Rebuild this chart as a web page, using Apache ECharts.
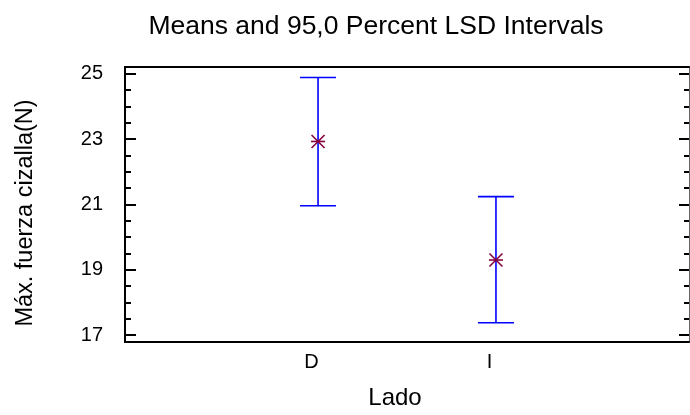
<!DOCTYPE html>
<html>
<head>
<meta charset="utf-8">
<script src="https://cdn.jsdelivr.net/npm/echarts@6/dist/echarts.min.js"></script>
<style>
  html, body { margin: 0; padding: 0; background: #fff; }
  #chart { width: 690px; height: 415px; }
</style>
</head>
<body>
<div id="chart"></div>
<script>
// Group labels and their positions on the x scale
const categories = ['D', 'I'];
const categoryPos = [1, 2];
// Group means with 95% LSD interval bounds
const means = [22.93, 19.30];
const lower = [20.96, 17.38];
const upper = [24.89, 21.24];
// Y axis labelled and minor tick values
const yMajorTicks = [17, 19, 21, 23, 25];
const yMinorTicks = [17.5, 18, 18.5, 19.5, 20, 20.5, 21.5, 22, 22.5, 23.5, 24, 24.5];

const FONT = 'Liberation Sans, Arial, sans-serif';
const Y_MIN = 16.79, Y_MAX = 25.21;

const chart = echarts.init(document.getElementById('chart'));

function yAxisDef(position, ticks, len, showLabel, lineColor, lineWidth) {
  return {
    type: 'value', position: position, min: Y_MIN, max: Y_MAX,
    splitLine: { show: false },
    axisLine: { show: true, onZero: false, lineStyle: { color: lineColor, width: lineWidth } },
    axisTick: { show: true, inside: true, length: len, customValues: ticks,
                lineStyle: { color: '#000', width: 2 } },
    axisLabel: { show: showLabel, customValues: ticks, color: '#000', fontFamily: FONT,
                 fontSize: 20, margin: 22, padding: [4, 0, 0, 0] },
    name: showLabel ? 'Máx. fuerza cizalla(N)' : '',
    nameLocation: 'middle', nameGap: 87, nameRotate: 90,
    nameTextStyle: { color: '#000', fontFamily: FONT, fontSize: 23.5, padding: [0, 17, 0, 0] }
  };
}

const errorData = categoryPos.map((x, i) => [x, lower[i], upper[i]]);
const meanData = categoryPos.map((x, i) => [x, means[i]]);

// error bar drawn with renderItem: vertical stem and two caps
function renderBar(params, api) {
  const x = api.value(0);
  const lo = api.coord([x, api.value(1)]);
  const hi = api.coord([x, api.value(2)]);
  const half = 18;
  const style = { stroke: '#0000ff', lineWidth: 1.6 };
  return {
    type: 'group',
    children: [
      { type: 'line', shape: { x1: lo[0], y1: lo[1], x2: hi[0], y2: hi[1] }, style: style },
      { type: 'line', shape: { x1: lo[0] - half, y1: lo[1], x2: lo[0] + half, y2: lo[1] }, style: style },
      { type: 'line', shape: { x1: hi[0] - half, y1: hi[1], x2: hi[0] + half, y2: hi[1] }, style: style }
    ]
  };
}

// asterisk marker for the mean
function renderMean(params, api) {
  const p = api.coord([api.value(0), api.value(1)]);
  const r = 7;
  const d = 6.5;
  const style = { stroke: '#85003f', lineWidth: 1.6 };
  return {
    type: 'group',
    children: [
      { type: 'line', shape: { x1: p[0] - r, y1: p[1], x2: p[0] + r, y2: p[1] }, style: style },
      { type: 'line', shape: { x1: p[0] - d, y1: p[1] - d, x2: p[0] + d, y2: p[1] + d }, style: style },
      { type: 'line', shape: { x1: p[0] - d, y1: p[1] + d, x2: p[0] + d, y2: p[1] - d }, style: style }
    ]
  };
}

chart.setOption({
  animation: false,
  backgroundColor: '#fff',
  title: {
    text: 'Means and 95,0 Percent LSD Intervals',
    left: 371, top: 8, textAlign: 'center',
    textStyle: { color: '#000', fontFamily: FONT, fontSize: 26.5, fontWeight: 'normal' }
  },
  grid: { left: 125, right: 1, top: 67, bottom: 71, containLabel: false },
  xAxis: [{
    type: 'value', min: -0.085, max: 3.085,
    splitLine: { show: false },
    axisLine: { show: true, onZero: false, lineStyle: { color: '#000', width: 2 } },
    axisTick: { show: false },
    axisLabel: { customValues: categoryPos, formatter: v => categories[categoryPos.indexOf(v)],
                 color: '#000', fontFamily: FONT, fontSize: 20, margin: 10, padding: [0, 13, 0, 0] },
    name: 'Lado', nameLocation: 'middle', nameGap: 44,
    nameTextStyle: { color: '#000', fontFamily: FONT, fontSize: 24, padding: [0, 24, 0, 0] }
  }, {
    type: 'value', position: 'top', min: -0.085, max: 3.085,
    splitLine: { show: false },
    axisLine: { show: true, onZero: false, lineStyle: { color: '#000', width: 2 } },
    axisTick: { show: false }, axisLabel: { show: false }
  }],
  yAxis: [
    yAxisDef('left', yMajorTicks, 11, true, '#000', 2),
    yAxisDef('left', yMinorTicks, 6, false, '#000', 2),
    yAxisDef('right', yMajorTicks, 10, false, '#666', 1),
    yAxisDef('right', yMinorTicks, 5, false, '#666', 1)
  ],
  series: [
    { type: 'custom', renderItem: renderBar, data: errorData, encode: { x: 0, y: [1, 2] } },
    { type: 'custom', renderItem: renderMean, data: meanData, encode: { x: 0, y: 1 } }
  ]
});
</script>
</body>
</html>
